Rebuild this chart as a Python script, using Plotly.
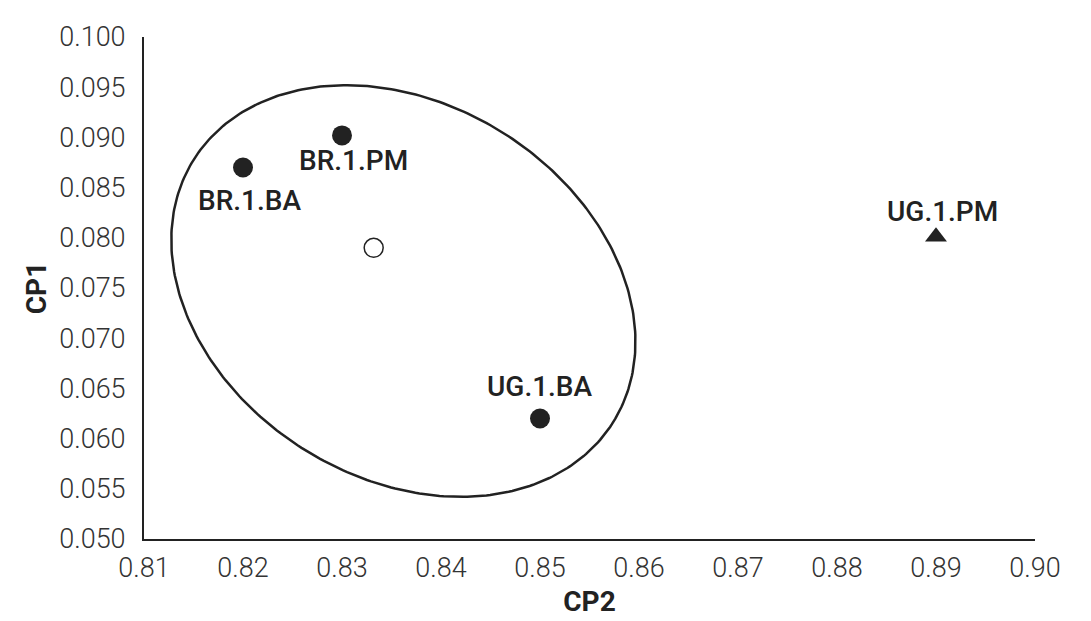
import numpy as np
import plotly.graph_objects as go

# sample scores
labels = ['BR.1.BA', 'BR.1.PM', 'UG.1.BA', 'UG.1.PM']
cp2 = [0.820, 0.830, 0.850, 0.890]
cp1 = [0.0870, 0.0902, 0.0620, 0.0801]
symbols = ['circle', 'circle', 'circle', 'triangle-up']

# group centroid (open circle)
centroid_cp2 = [0.8332]
centroid_cp1 = [0.0790]

# confidence ellipse: centre, semi-axes and tilt (degrees, data space)
ell_center = (0.8362, 0.0747)
ell_axes = (0.0249, 0.0187)
ell_angle = -30.7

x_ticks = [0.81, 0.82, 0.83, 0.84, 0.85, 0.86, 0.87, 0.88, 0.89, 0.90]
y_ticks = [0.050, 0.055, 0.060, 0.065, 0.070, 0.075, 0.080, 0.085, 0.090, 0.095, 0.100]

INK = '#222222'
TICK_FONT = dict(family='Roboto', size=27, color='#333333', weight=300)
LABEL_FONT = dict(family='Roboto', size=28, color=INK, weight=500)
TITLE_FONT = dict(family='Roboto', size=28, color=INK)

# ellipse outline
t = np.linspace(0, 2 * np.pi, 361)
th = np.deg2rad(ell_angle)
ex = ell_center[0] + ell_axes[0] * np.cos(t) * np.cos(th) - ell_axes[1] * np.sin(t) * np.sin(th)
ey = ell_center[1] + ell_axes[0] * np.cos(t) * np.sin(th) + ell_axes[1] * np.sin(t) * np.cos(th)

fig = go.Figure()
fig.add_trace(go.Scatter(x=ex, y=ey, mode='lines', line=dict(color=INK, width=2.5),
                         hoverinfo='skip', showlegend=False))
fig.add_trace(go.Scatter(x=cp2, y=cp1, mode='markers', text=labels,
                         marker=dict(symbol=symbols, size=[20, 20, 20, 19], color=INK,
                                     opacity=1, line=dict(color=INK, width=0)),
                         showlegend=False))
fig.add_trace(go.Scatter(x=centroid_cp2, y=centroid_cp1, mode='markers',
                         marker=dict(symbol='circle', size=19, color='white', opacity=1,
                                     line=dict(color=INK, width=1.5)),
                         showlegend=False))

# label offsets in pixels (xshift, yshift)
offsets = {'BR.1.BA': (6, -33), 'BR.1.PM': (11, -25), 'UG.1.BA': (0, 32), 'UG.1.PM': (6, 25)}
for lab, x, y in zip(labels, cp2, cp1):
    dx, dy = offsets[lab]
    fig.add_annotation(x=x, y=y, text=lab, showarrow=False, xshift=dx, yshift=dy,
                       font=LABEL_FONT)

fig.update_xaxes(range=[0.81, 0.90], tickvals=x_ticks, tickformat='.2f',
                 showgrid=False, zeroline=False, showline=True, linecolor=INK, linewidth=2,
                 ticks='', tickfont=TICK_FONT, ticklabelstandoff=4,
                 title=dict(text='<b>CP2</b>', font=TITLE_FONT, standoff=8))
fig.update_yaxes(range=[0.050, 0.100], tickvals=y_ticks, tickformat='.3f',
                 showgrid=False, zeroline=False, showline=True, linecolor=INK, linewidth=2,
                 ticks='', tickfont=TICK_FONT, ticklabelstandoff=11,
                 title=dict(text='<b>CP1</b>', font=TITLE_FONT, standoff=4))

# page body adds an 8px offset, so margins are trimmed to keep the plot area in place
fig.update_layout(width=1091, height=621, plot_bgcolor='white', paper_bgcolor='white',
                  margin=dict(l=136, r=64, t=29, b=90, autoexpand=False))

fig.write_html('out.html')
